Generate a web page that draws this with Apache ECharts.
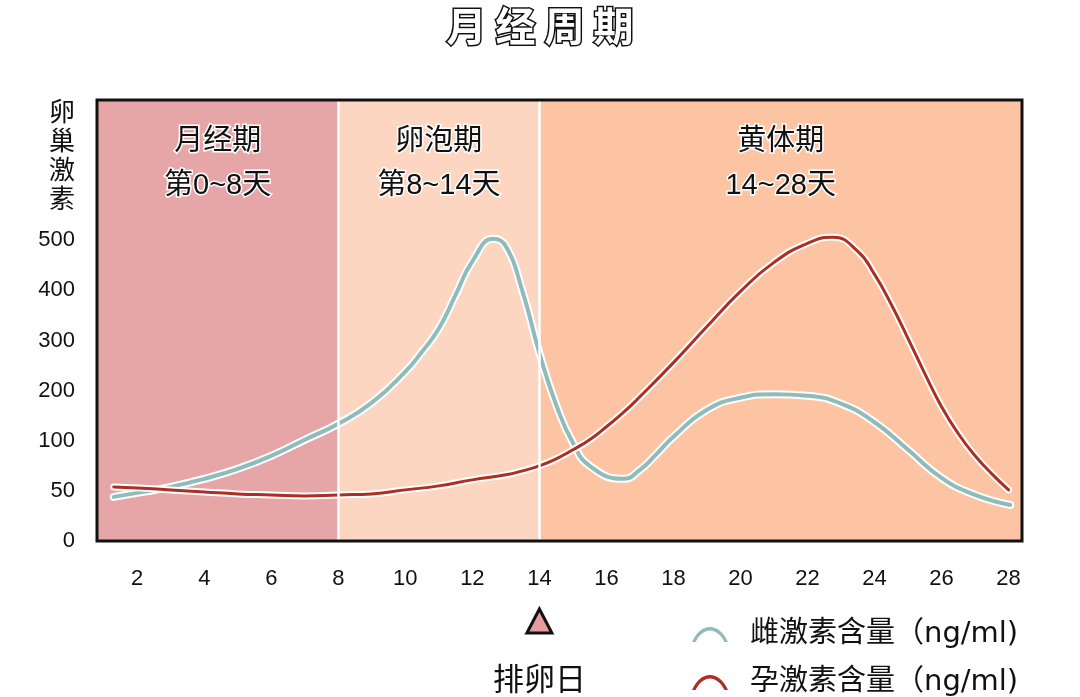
<!DOCTYPE html>
<html lang="zh">
<head>
    <meta charset="UTF-8">
    <title>月经周期</title>
    <script src="https://cdn.jsdelivr.net/npm/echarts@6/dist/echarts.min.js"></script>
    <style>
        html, body { margin: 0; padding: 0; background: #fff; }
        #container { width: 1080px; height: 697px; }
    </style>
</head>
<body>
<div id="container"></div>
<script>
    // 纵轴刻度（非等距：0-100 每格 50，之后每格 100）
    var yTickLabels = ['0', '50', '100', '200', '300', '400', '500'];
    var xTickDays = [2, 4, 6, 8, 10, 12, 14, 16, 18, 20, 22, 24, 26, 28];

    var phaseNames = ['月经期', '卵泡期', '黄体期'];
    var phaseRanges = ['第0~8天', '第8~14天', '14~28天'];
    var phaseBounds = [0.8, 8, 14, 28.4];

    var estrogenDays = [1.3, 2, 3, 4, 5, 6, 7, 8, 9, 10, 10.5, 11, 11.5, 12, 12.63, 13, 13.5, 14, 14.5, 15, 15.5, 16.5, 17, 17.5, 18, 19, 20, 21, 22, 23, 24, 25, 26, 27, 28.05];
    var estrogenValues = [44, 48, 54, 62, 72, 85, 102, 134, 176, 238, 278, 324, 391, 458, 503, 488, 397, 275, 172, 98, 75, 62, 71, 87, 108, 162, 186, 193, 190, 174, 137, 91, 63, 46, 36];

    var progesteroneDays = [1.3, 2, 3, 4, 5, 6, 7, 8, 9, 10, 11, 12, 13, 13.5, 14, 14.5, 15, 15.5, 16, 16.5, 17, 18, 19, 20, 21, 22, 22.75, 23.5, 24, 24.5, 25, 25.5, 26, 26.5, 27, 27.5, 28];
    var progesteroneValues = [54, 53, 51, 49, 47, 46, 45, 46, 47, 51, 55, 61, 66, 70, 75, 82, 91, 102, 128, 156, 188, 256, 328, 398, 456, 494, 506, 478, 432, 372, 304, 234, 168, 114, 85, 67, 51];

    var ovulationDay = 14;

    var estrogenName = '雌激素含量（ng/ml)';
    var progesteroneName = '孕激素含量（ng/ml)';

    var phaseColors = ['#e6a6a8', '#fdd6c1', '#fdc4a4'];
    var teal = '#8fbbba';
    var red = '#ad2e23';
    var numFont = '"Liberation Sans", "Noto Sans CJK SC", sans-serif';
    var cjkFont = '"Noto Sans CJK SC", sans-serif';

    // 刻度值 -> 轴上位置（按刻度分段线性）
    function toAxis(v) {
        return v <= 100 ? v / 50 : 2 + (v - 100) / 100;
    }

    function pairs(days, values) {
        return days.map(function (d, i) { return [d, toAxis(values[i])]; });
    }

    var bandAreas = phaseNames.map(function (name, i) {
        return [
            {
                xAxis: phaseBounds[i],
                itemStyle: { color: phaseColors[i] },
                label: { formatter: name + '\n' + phaseRanges[i] }
            },
            { xAxis: phaseBounds[i + 1] }
        ];
    });

    var legendIcon = 'path://M0,18 C9,-2 27,-2 36,18 L32.5,18 C25,2.5 11,2.5 3.5,18 Z';

    var myChart = echarts.init(document.getElementById('container'));

    myChart.setOption({
        animation: false,
        title: {
            text: '月 经 周 期',
            left: 'center',
            top: 1,
            textStyle: {
                fontFamily: cjkFont,
                fontSize: 40,
                fontWeight: 'bold',
                color: '#fff',
                textBorderColor: '#111',
                textBorderWidth: 3
            }
        },
        grid: {
            left: 97, right: 58, top: 100, bottom: 156,
            show: true,
            z: 10,
            backgroundColor: 'transparent',
            borderColor: '#111',
            borderWidth: 3
        },
        legend: {
            data: [estrogenName, progesteroneName],
            orient: 'vertical',
            left: 692,
            top: 620,
            height: 110,
            padding: 0,
            itemWidth: 36,
            itemHeight: 18,
            itemGap: 19,
            icon: legendIcon,
            itemStyle: { borderWidth: 0 },
            textStyle: {
                fontFamily: '"DejaVu Sans", "Noto Sans CJK SC", sans-serif',
                fontSize: 29,
                color: '#111',
                padding: [0, 0, 0, 17]
            }
        },
        xAxis: {
            type: 'value',
            min: phaseBounds[0],
            max: phaseBounds[phaseBounds.length - 1],
            axisLine: { show: false },
            axisTick: { show: false },
            splitLine: { show: false },
            axisLabel: {
                customValues: xTickDays,
                margin: 27,
                fontFamily: numFont,
                fontSize: 22,
                color: '#111'
            }
        },
        yAxis: {
            type: 'value',
            min: 0,
            max: 8.8,
            name: '卵\n巢\n激\n素',
            nameLocation: 'end',
            nameGap: 3,
            nameTextStyle: {
                fontFamily: cjkFont,
                fontSize: 26,
                lineHeight: 29,
                color: '#111',
                align: 'center',
                verticalAlign: 'top',
                padding: [0, 70, 0, 0]
            },
            axisLine: { show: false },
            axisTick: { show: false },
            splitLine: { show: false },
            axisLabel: {
                customValues: yTickLabels.map(function (t, i) { return i; }),
                formatter: function (val) { return yTickLabels[Math.round(val)]; },
                margin: 22,
                fontFamily: numFont,
                fontSize: 22,
                color: '#111'
            }
        },
        series: [
            {
                name: 'phases',
                type: 'line',
                data: [],
                silent: true,
                markArea: {
                    silent: true,
                    label: {
                        position: 'insideTop',
                        distance: 20,
                        fontFamily: numFont,
                        fontSize: 29,
                        lineHeight: 44,
                        color: '#111',
                        textBorderColor: '#fff',
                        textBorderWidth: 3
                    },
                    data: bandAreas
                },
                markLine: {
                    silent: true,
                    symbol: 'none',
                    label: { show: false },
                    lineStyle: { color: '#fff', width: 2.5, type: 'solid' },
                    data: [{ xAxis: phaseBounds[1] }, { xAxis: phaseBounds[2] }]
                }
            },
            {
                name: 'estrogen-halo',
                type: 'line',
                smooth: 0.5,
                symbol: 'none',
                silent: true,
                lineStyle: { color: '#fff', width: 8, cap: 'round' },
                data: pairs(estrogenDays, estrogenValues)
            },
            {
                name: estrogenName,
                type: 'line',
                smooth: 0.5,
                symbol: 'none',
                itemStyle: { color: teal },
                lineStyle: { color: teal, width: 4, cap: 'round' },
                data: pairs(estrogenDays, estrogenValues)
            },
            {
                name: 'progesterone-halo',
                type: 'line',
                smooth: 0.5,
                symbol: 'none',
                silent: true,
                lineStyle: { color: '#fff', width: 7, cap: 'round' },
                data: pairs(progesteroneDays, progesteroneValues)
            },
            {
                name: progesteroneName,
                type: 'line',
                smooth: 0.5,
                symbol: 'none',
                itemStyle: { color: red },
                lineStyle: { color: red, width: 3, cap: 'round' },
                data: pairs(progesteroneDays, progesteroneValues)
            }
        ]
    });

    // 排卵日标记，横向位置取自 x 轴
    var ovX = myChart.convertToPixel({ gridIndex: 0 }, [ovulationDay, 0])[0];
    myChart.setOption({
        graphic: [
            {
                type: 'polygon',
                x: ovX,
                y: 621,
                shape: { points: [[0, -12], [12.5, 12], [-12.5, 12]] },
                style: { fill: '#e89a9c', stroke: '#111', lineWidth: 3, lineJoin: 'miter' }
            },
            {
                type: 'text',
                x: ovX,
                y: 678,
                style: {
                    text: '排卵日',
                    fontFamily: cjkFont,
                    fontSize: 31,
                    fill: '#111',
                    align: 'center',
                    verticalAlign: 'middle'
                }
            }
        ]
    });
</script>
</body>
</html>
